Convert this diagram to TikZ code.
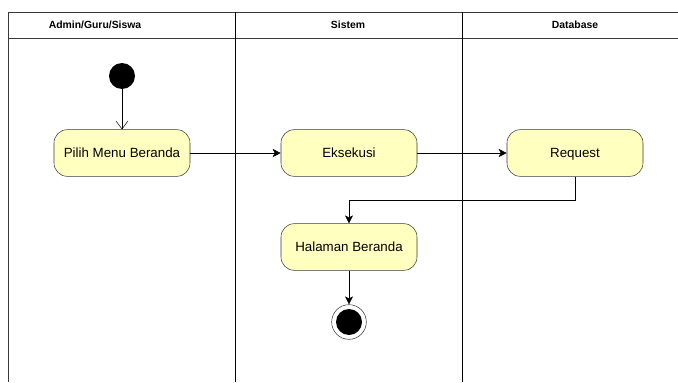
\documentclass[tikz,border=0pt]{standalone}
\usepackage{fontspec}
\setmainfont{Liberation Sans}
\usetikzlibrary{arrows.meta,positioning,calc}
\definecolor{softyellow}{RGB}{255,255,192}
\definecolor{edgegray}{RGB}{54,57,61}

\begin{document}
\begin{tikzpicture}[x=0.75pt,y=-0.75pt,
            act/.style={rectangle, draw=edgegray, fill=softyellow, rounded corners=10pt, align=center, minimum width=102pt, minimum height=35pt, text height=8pt, text depth=1pt, font=\fontsize{10}{12}\selectfont},
            lane/.style={font=\bfseries\fontsize{7.8}{10}\selectfont},
            startnode/.style={circle, fill=black, minimum size=19.5pt, inner sep=0pt},
            endnode/.style={circle, draw=edgegray, fill=white, minimum size=26pt, inner sep=0pt,
                path picture={\fill[black] (path picture bounding box.center) circle (9.75pt);}},
            arrow/.style={-{Stealth[length=6pt,width=6pt,inset=1.5pt]}},
            openarrow/.style={-{Straight Barb[length=6pt,width=9pt]}}
        ]
            \useasboundingbox (0,0) rectangle (678,382);
            % swimlanes
            \draw[edgegray] (678,12) -- (8,12) -- (8,382);
            \draw[edgegray] (8,38) -- (678,38);
            \draw (235,12) -- (235,382);
            \draw (462,12) -- (462,382);
            \node[lane] (l1) at (95,25) {Admin/Guru/Siswa};
            \node[lane] (l2) at (348,25) {Sistem};
            \node[lane] (l3) at (575,25) {Database};
            % activities
            \node[startnode] (start) at (122,76) {};
            \node[act] (pilih) at (122,153) {Pilih Menu Beranda};
            \node[act] (eksekusi) at (349,153) {Eksekusi};
            \node[act] (request) at (575,153) {Request};
            \node[act] (halaman) at (349,247) {Halaman Beranda};
            \node[endnode] (end) at (349,322) {};
            \draw[openarrow] (start) -- (pilih);
            \draw[arrow] (pilih) -- (eksekusi);
            \draw[arrow] (eksekusi) -- (request);
            \draw[arrow] (request.south) |- (349,200) -- (halaman.north);
            \draw[arrow] (halaman) -- (end);
        \end{tikzpicture}
\end{document}
